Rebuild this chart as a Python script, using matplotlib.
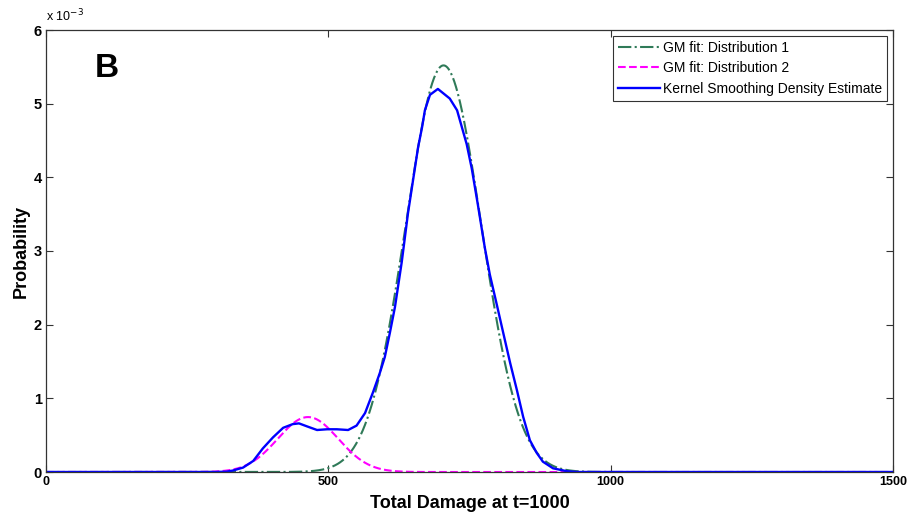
import numpy as np
import matplotlib
matplotlib.use("Agg")
import matplotlib.pyplot as plt

plt.rcParams['font.family'] = ['Liberation Sans', 'DejaVu Sans']

# Gaussian mixture components: weight, mean, standard deviation
gm_weights = [0.927, 0.10]
gm_means = [704.0, 464.0]
gm_sigmas = [67.0, 53.5]
gm_labels = ['GM fit: Distribution 1', 'GM fit: Distribution 2']

# Kernel smoothing density estimate (density in units of 1e-3)
kde_x = [0, 300, 320, 331, 349, 367, 384, 402, 420, 437, 448, 462, 480, 498,
         515, 535, 550, 565, 579, 591, 600, 609, 618, 630, 641, 650, 659, 666,
         671, 680, 694, 715, 728, 738, 745, 754, 765, 777, 786, 799, 810, 822,
         834, 845, 857, 869, 880, 898, 923, 940, 1500]
kde_y = [0, 0, 0.005, 0.02, 0.06, 0.15, 0.32, 0.47, 0.60, 0.65, 0.66, 0.62,
         0.57, 0.58, 0.58, 0.57, 0.63, 0.80, 1.08, 1.34, 1.56, 1.89, 2.24,
         2.85, 3.51, 3.96, 4.41, 4.68, 4.91, 5.12, 5.20, 5.07, 4.91, 4.64,
         4.45, 4.12, 3.62, 3.05, 2.68, 2.25, 1.88, 1.48, 1.11, 0.75, 0.43,
         0.26, 0.14, 0.05, 0.01, 0, 0]

x_ticks = [0, 500, 1000, 1500]
y_ticks = [0, 1, 2, 3, 4, 5, 6]

fig = plt.figure(figsize=(9.12, 5.15), dpi=100)
ax = fig.add_axes([46 / 912, 1 - 472 / 515, (893 - 46) / 912, (472 - 30) / 515])

grid = np.linspace(0, 1500, 1501)
colors = ['#2f7a58', '#ff00ff']
styles = ['-.', '--']
for w, m, s, lab, c, ls in zip(gm_weights, gm_means, gm_sigmas, gm_labels, colors, styles):
    pdf = w / (s * np.sqrt(2 * np.pi)) * np.exp(-0.5 * ((grid - m) / s) ** 2)
    ax.plot(grid, pdf * 1e3, ls, color=c, lw=1.5, label=lab)

ax.plot(kde_x, kde_y, '-', color='#0000ff', lw=1.7,
        label='Kernel Smoothing Density Estimate')

ax.set_xlim(0, 1500)
ax.set_ylim(0, 6)
ax.set_xticks(x_ticks)
ax.set_yticks(y_ticks)
ax.set_xticklabels([str(t) for t in x_ticks], fontsize=9, fontweight='bold')
ax.set_yticklabels([str(t) for t in y_ticks], fontsize=10.5, fontweight='bold')
ax.tick_params(direction='in', length=5, width=0.8, top=True, right=True,
               colors='#333333', labelcolor='black', pad=3)
for sp in ax.spines.values():
    sp.set_color('#333333')
    sp.set_linewidth(0.9)

ax.set_xlabel('Total Damage at t=1000', fontsize=13, fontweight='bold', labelpad=5)
ax.set_ylabel('Probability', fontsize=13, fontweight='bold', labelpad=3)

ax.text(0.0, 1.012, r'x 10$^{-3}$', transform=ax.transAxes, fontsize=9,
        ha='left', va='bottom')
ax.text(0.058, 0.912, 'B', transform=ax.transAxes, fontsize=24,
        fontweight='bold', ha='left', va='center')

leg = ax.legend(loc='upper right', prop={'size': 10}, frameon=True,
                fancybox=False, edgecolor='black', handlelength=3.0,
                handletextpad=0.2, borderpad=0.4, labelspacing=0.45,
                borderaxespad=0.4)
leg.get_frame().set_linewidth(0.8)

fig.savefig('out.png', dpi=100)
